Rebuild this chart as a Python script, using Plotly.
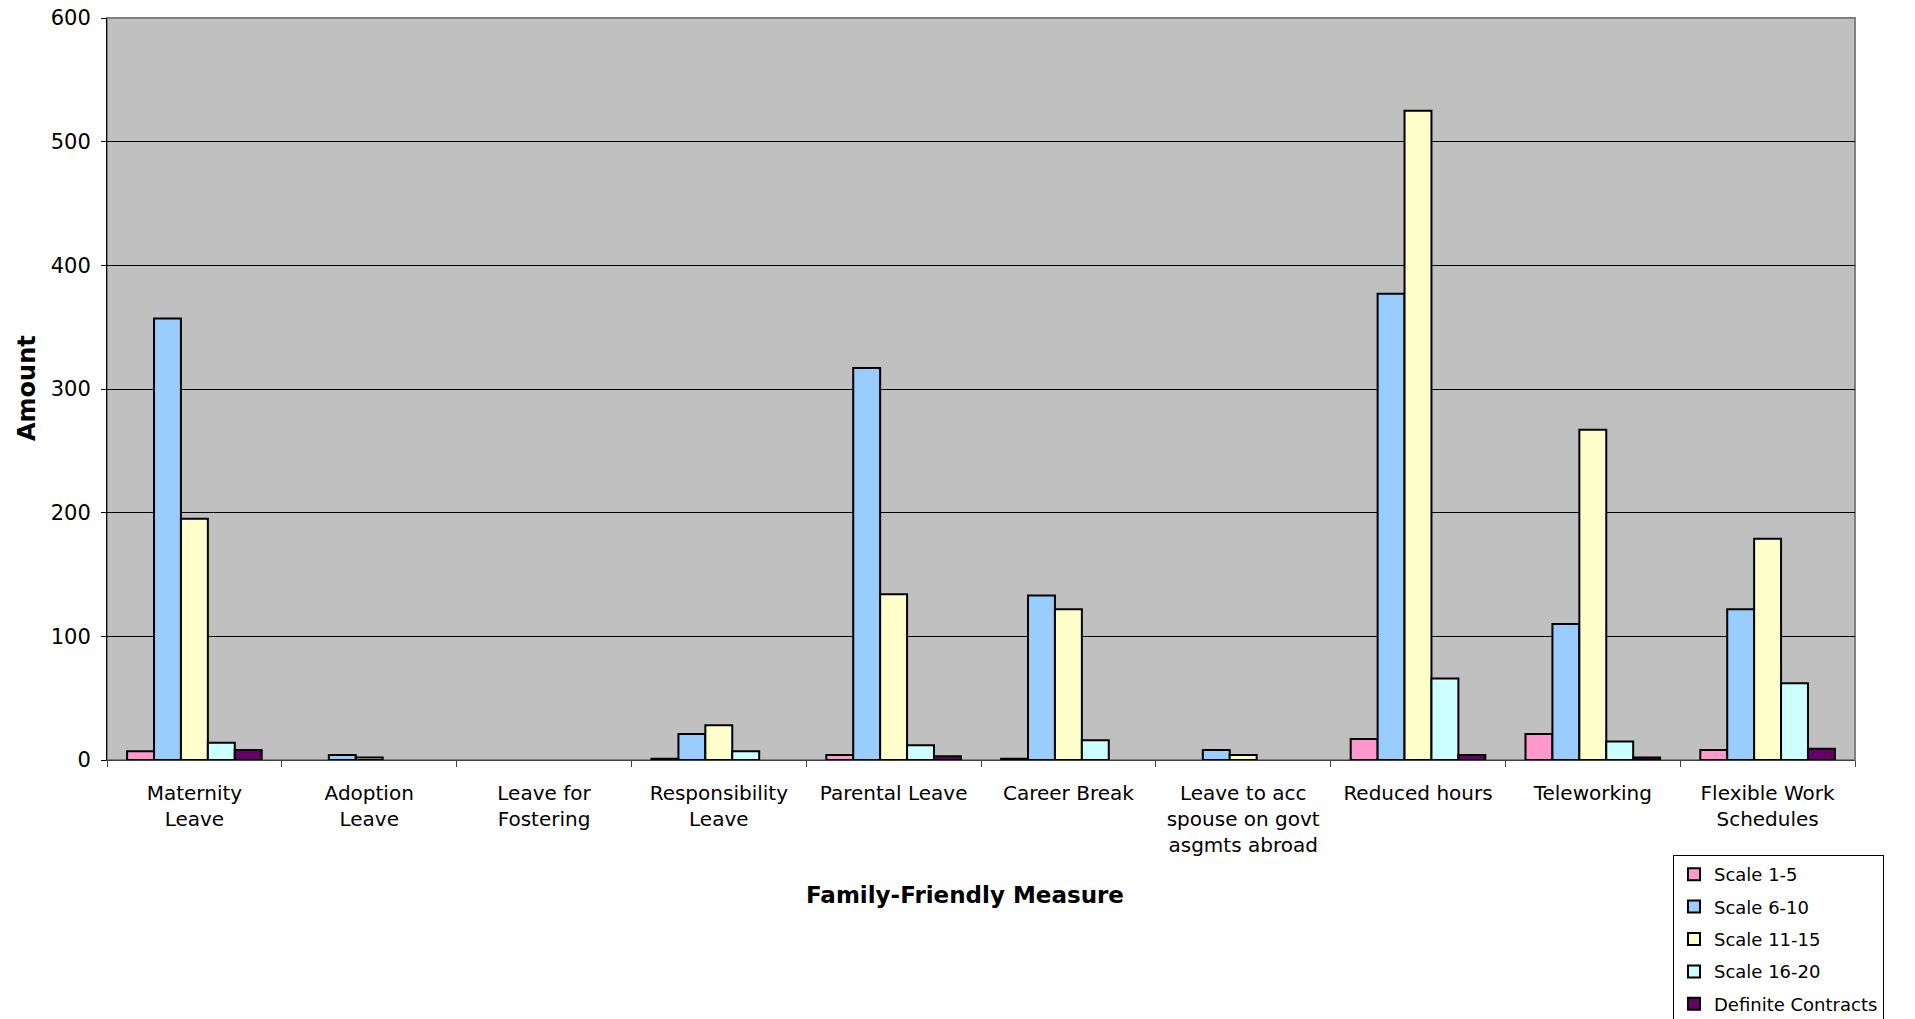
import plotly.graph_objects as go

categories = [
    "Maternity<br>Leave", "Adoption<br>Leave", "Leave for<br>Fostering",
    "Responsibility<br>Leave", "Parental Leave", "Career Break",
    "Leave to acc<br>spouse on govt<br>asgmts abroad", "Reduced hours",
    "Teleworking", "Flexible Work<br>Schedules",
]
scale_1_5 = [7, 0, 0, 1, 4, 1, 0, 17, 21, 8]
scale_6_10 = [357, 4, 0, 21, 317, 133, 8, 377, 110, 122]
scale_11_15 = [195, 2, 0, 28, 134, 122, 4, 525, 267, 179]
scale_16_20 = [14, 0, 0, 7, 12, 16, 0, 66, 15, 62]
definite_contracts = [8, 0, 0, 0, 3, 0, 0, 4, 2, 9]

series_names = ["Scale 1-5", "Scale 6-10", "Scale 11-15", "Scale 16-20", "Definite Contracts"]
series_values = [scale_1_5, scale_6_10, scale_11_15, scale_16_20, definite_contracts]
series_colors = ["#FF99CC", "#99CCFF", "#FFFFCC", "#CCFFFF", "#660066"]

y_ticks = [0, 100, 200, 300, 400, 500, 600]

FONT = "DejaVu Sans"

fig = go.Figure()
for name, vals, col in zip(series_names, series_values, series_colors):
    fig.add_trace(go.Bar(
        x=categories,
        y=[v if v else None for v in vals],
        name=name,
        legendgroup=name,
        marker=dict(color=col, line=dict(color="black", width=2)),
    ))

fig.update_layout(
    width=1915, height=1019,
    margin=dict(l=107, r=60, t=18, b=259, autoexpand=False),
    paper_bgcolor="white",
    plot_bgcolor="#C0C0C0",
    barmode="group",
    bargap=0.23,
    bargroupgap=0,
    font=dict(family=FONT, size=20, color="black"),
    legend=dict(
        xref="container", yref="container",
        x=1673 / 1915, y=1 - 855 / 1019,
        xanchor="left", yanchor="top",
        bgcolor="white", bordercolor="black", borderwidth=1,
        font=dict(family=FONT, size=18, color="black"),
        tracegroupgap=6,
    ),
    showlegend=True,
)

fig.update_yaxes(
    range=[0, 600],
    tickvals=y_ticks,
    showgrid=True, gridcolor="black", gridwidth=1,
    ticks="outside", ticklen=5, tickcolor="black",
    showline=True, linecolor="black", linewidth=1,
    zeroline=False,
    tickfont=dict(family=FONT, size=21),
    ticklabelstandoff=6,
)
fig.update_xaxes(
    type="category",
    tickson="boundaries",
    ticks="outside", ticklen=6, tickcolor="#404040",
    showline=True, linecolor="#404040", linewidth=1,
    showgrid=False,
    tickangle=0,
    tickfont=dict(family=FONT, size=20),
    ticklabelstandoff=15,
)

fig.add_shape(type="rect", xref="paper", yref="paper", x0=0, x1=1, y0=0, y1=1,
              line=dict(color="#808080", width=2), layer="below")

fig.add_annotation(
    text="<b>Family-Friendly Measure</b>",
    xref="paper", yref="paper",
    x=(965 - 107) / 1748, y=(760 - 895) / 742,
    xanchor="center", yanchor="middle",
    showarrow=False,
    font=dict(family=FONT, size=23, color="black"),
)
fig.add_annotation(
    text="<b>Amount</b>",
    xref="paper", yref="paper",
    x=(27 - 107) / 1748, y=(760 - 388) / 742,
    xanchor="center", yanchor="middle",
    textangle=-90,
    showarrow=False,
    font=dict(family=FONT, size=24, color="black"),
)

fig.write_html("out.html")
